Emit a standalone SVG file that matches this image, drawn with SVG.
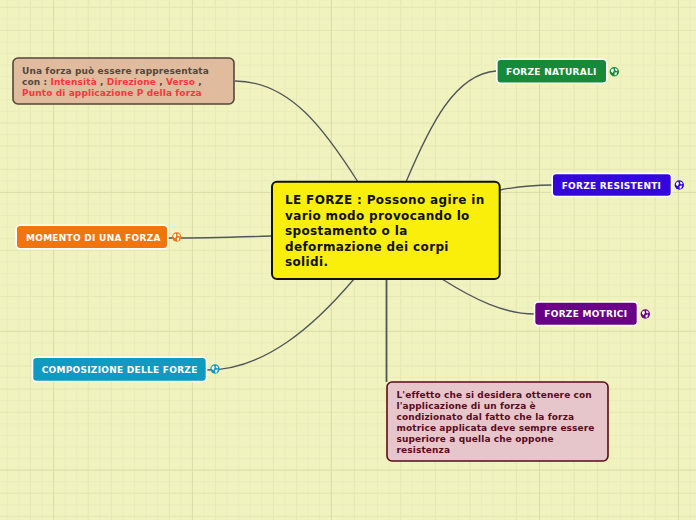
<svg xmlns="http://www.w3.org/2000/svg" width="696" height="520" viewBox="0 0 696 520">
<style>
text{font-family:"DejaVu Sans",Verdana,sans-serif;font-weight:700}
.c{fill:none;stroke:#50555a;stroke-width:1.300}
.t{fill:#fff;font-size:9px;letter-spacing:.27px}
.w{stroke:#fff;stroke-width:1.600}
.n{font-size:9px;letter-spacing:.11px}
.r{font-size:12px;letter-spacing:.36px;fill:#111}
.g{fill:#fff}
.mid{stroke:#e5e8b3;fill:none}
.str{stroke:#dadda8;fill:none}
</style>
<defs>
<pattern id="grid" width="11.57" height="11.57" patternUnits="userSpaceOnUse" x="6.800" y="6.800">
<path d="M.5 0V11.57M0 .5H11.57" stroke="#eaedba" fill="none"/>
</pattern>
<symbol id="globe" viewBox="0 0 10 10" overflow="visible">
<circle cx="5" cy="5" r="4.7" fill="currentColor"/>
<path class="g" d="M1.800 2.800L4 1.600L4.600 3.800L3.400 6.200L1.600 4.800ZM6 1.400L8.400 3L7.600 4.600L5.800 3.600ZM5.200 6L7.800 5.600L7 8.400L5.400 8.800Z"/>
</symbol>
</defs>
<rect width="696" height="520" fill="#f0f3be"/>
<rect width="696" height="520" fill="url(#grid)"/>
<path class="mid" d="M30.400 0V520M88.300 0V520M111.400 0V520M169.300 0V520M215.600 0V520M273.400 0V520M296.600 0V520M354.400 0V520M400.700 0V520M435.400 0V520M470.100 0V520M516.400 0V520M574.200 0V520M597.400 0V520M655.200 0V520M0 7.300H696M0 30.400H696M0 123H696M0 146.100H696M0 169.300H696M0 250.300H696M0 296.600H696M0 366H696M0 389.100H696M0 412.300H696M0 493.200H696M0 516.400H696"/>
<path class="str" d="M53.600 0V520M192.400 0V520M331.300 0V520M539.500 0V520M678.400 0V520M0 192.400H696M0 331.300H696M0 470.100H696"/>
<g id="connectors">
<path class="c" d="M235 81C290 81 325 130 358 182"/>
<path class="c" d="M496 71C455 74 430 125 406 182"/>
<path class="c" d="M500 190C515 187 535 185 552 185"/>
<path class="c" d="M168 238C205 238 240 237 272 236"/>
<path class="c" d="M207 370C265 370 315 325 354 279"/>
<path class="c" d="M442 279C475 300 505 314 534 314"/>
<path class="c" d="M386.500 279V382" style="stroke-width:1.800"/>
</g>
<g id="node-root">
<rect x="272" y="181.700" width="227.700" height="97.300" rx="5" fill="#f9ef0b" stroke="#111" stroke-width="2"/>
<text class="r" x="285" y="204">LE FORZE : Possono agire in</text>
<text class="r" x="285" y="220">vario modo provocando lo</text>
<text class="r" x="285" y="235.300">spostamento o la</text>
<text class="r" x="285" y="251">deformazione dei corpi</text>
<text class="r" x="285" y="266">solidi.</text>
</g>
<g id="node-una-forza">
<rect x="13" y="58" width="221" height="46" rx="5" fill="#e0bb9e" stroke="#54473a" stroke-width="1.600"/>
<text class="n" x="22" y="74" fill="#54473a">Una forza può essere rappresentata</text>
<text class="n" x="22" y="85" fill="#54473a">con : <tspan fill="#fb3640">Intensità</tspan> , <tspan fill="#fb3640">Direzione</tspan> , <tspan fill="#fb3640">Verso</tspan> ,</text>
<text class="n" x="22" y="96" fill="#fb3640">Punto di applicazione P della forza</text>
</g>
<g id="node-naturali">
<rect class="w" x="496.800" y="59.200" width="110" height="24" rx="4" fill="#178a3a"/>
<text class="t" x="506" y="75.300">FORZE NATURALI</text>
<use href="#globe" x="609.300" y="66.700" width="10" height="10" color="#178a3a"/>
</g>
<g id="node-resistenti">
<rect class="w" x="552.200" y="173.500" width="119.300" height="23" rx="4" fill="#3307dc"/>
<text class="t" x="561.700" y="189">FORZE RESISTENTI</text>
<use href="#globe" x="674.300" y="180" width="10" height="10" color="#3307dc"/>
</g>
<g id="node-momento">
<rect class="w" x="16.200" y="225.200" width="151.600" height="23.600" rx="4" fill="#f0750f"/>
<text class="t" x="26" y="241">MOMENTO DI UNA FORZA</text>
<use href="#globe" x="171.700" y="232" width="10" height="10" color="#f0750f"/>
</g>
<g id="node-composizione">
<rect class="w" x="32.500" y="357.200" width="174" height="24.300" rx="4" fill="#119abf"/>
<text class="t" x="41.700" y="373.300">COMPOSIZIONE DELLE FORZE</text>
<use href="#globe" x="210" y="364" width="10" height="10" color="#119abf"/>
</g>
<g id="node-motrici">
<rect class="w" x="534.500" y="301.900" width="103" height="23.600" rx="4" fill="#6a0085"/>
<text class="t" x="544.300" y="317.300">FORZE MOTRICI</text>
<use href="#globe" x="640.300" y="309" width="10" height="10" color="#6a0085"/>
</g>
<g id="node-effetto">
<rect x="387" y="382" width="221" height="79" rx="5" fill="#e6c6cb" stroke="#5a0a1e" stroke-width="1.600"/>
<text class="n" fill="#5a0a1e" x="396.500" y="398">L'effetto che si desidera ottenere con</text>
<text class="n" fill="#5a0a1e" x="396.500" y="409">l'applicazione di un forza è</text>
<text class="n" fill="#5a0a1e" x="396.500" y="420">condizionato dal fatto che la forza</text>
<text class="n" fill="#5a0a1e" x="396.500" y="431">motrice applicata deve sempre essere</text>
<text class="n" fill="#5a0a1e" x="396.500" y="442">superiore a quella che oppone</text>
<text class="n" fill="#5a0a1e" x="396.500" y="453">resistenza</text>
</g>
</svg>
